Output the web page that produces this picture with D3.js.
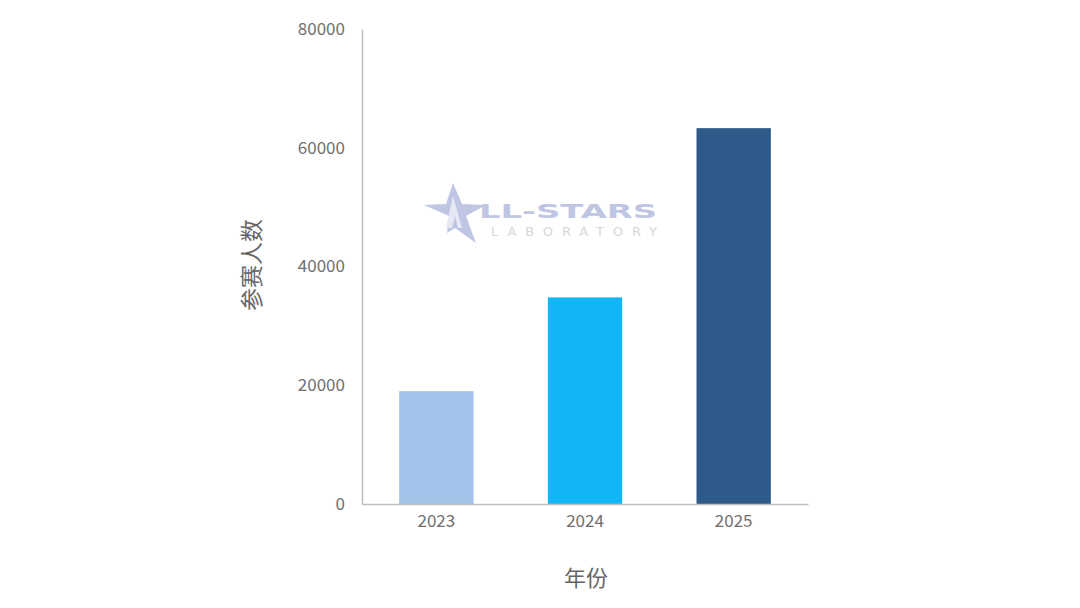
<!DOCTYPE html>
<html><head><meta charset="utf-8">
<script src="https://cdn.jsdelivr.net/npm/d3@7"></script>
<style>
html,body{margin:0;padding:0;background:#fff;}
svg{display:block;}
</style></head>
<body>
<svg id="chart" width="1080" height="608"></svg>
<script>
const categories = ["2023", "2024", "2025"];
const values = [19000, 34800, 63300];
const colors = ["#a2c2ea", "#12b6f6", "#2e5a8a"];
const yTicks = [0, 20000, 40000, 60000, 80000];
const yTitle = "参赛人数";
const xTitle = "年份";

const svg = d3.select("#chart");
const font = "'Noto Sans CJK SC','Noto Sans',sans-serif";
const m = {left: 362, right: 808, top: 29, bottom: 504};

const x = d3.scaleBand().domain(categories).range([m.left, m.right]).paddingInner(0.5).paddingOuter(0.25);
const y = d3.scaleLinear().domain([0, 80000]).range([m.bottom, m.top]);

// watermark
const wm = svg.append("g").attr("opacity", 0.9);
const star = [[453,183],[462,204],[486,205],[466,216],[476,243],[455,228],[447,233],[449,216],[424,205],[446,204]];
wm.append("path").attr("d", "M" + star.map(p => p.join(",")).join("L") + "Z").attr("fill", "#b9c0e2");
wm.append("path").attr("d", "M453,196L446,228L452,228L455,216L458,228L462,228Z").attr("fill", "#e3e6f3");
wm.append("text").attr("x", 479).attr("y", 218).attr("font-family", "'DejaVu Sans',sans-serif").attr("font-weight", "bold")
  .attr("font-size", 20).attr("fill", "#b9c0e2").attr("textLength", 178).attr("lengthAdjust", "spacingAndGlyphs").text("LL-STARS");
wm.append("text").attr("x", 491).attr("y", 236).attr("font-family", "'DejaVu Sans',sans-serif")
  .attr("font-size", 13).attr("fill", "#d2d4da").attr("textLength", 166).attr("lengthAdjust", "spacing").text("LABORATORY");

// bars
svg.selectAll("rect.bar").data(categories).join("rect").attr("class", "bar")
  .attr("x", d => x(d)).attr("width", x.bandwidth())
  .attr("y", (d, i) => y(values[i])).attr("height", (d, i) => y(0) - y(values[i]))
  .attr("fill", (d, i) => colors[i]);

// y axis
const ya = svg.append("g").attr("transform", `translate(${m.left},0)`)
  .call(d3.axisLeft(y).tickValues(yTicks).tickSize(0).tickPadding(17).tickFormat(d3.format("d")));
ya.select(".domain").attr("stroke", "#bfbfbf").attr("stroke-width", 1.5);
ya.selectAll("text").attr("font-family", font).attr("font-size", 17).attr("fill", "#6f6f6f");

// x axis
const xa = svg.append("g").attr("transform", `translate(0,${m.bottom})`)
  .call(d3.axisBottom(x).tickSize(0).tickPadding(11));
xa.select(".domain").attr("stroke", "#bfbfbf").attr("stroke-width", 1.5);
xa.selectAll("text").attr("font-family", font).attr("font-size", 17).attr("fill", "#6f6f6f");

// titles
svg.append("text").attr("transform", "translate(260,265) rotate(-90)").attr("text-anchor", "middle")
  .attr("font-family", font).attr("font-size", 23).attr("fill", "#666").text(yTitle);
svg.append("text").attr("x", 586).attr("y", 586).attr("text-anchor", "middle")
  .attr("font-family", font).attr("font-size", 22).attr("fill", "#666").text(xTitle);
</script>
</body></html>
